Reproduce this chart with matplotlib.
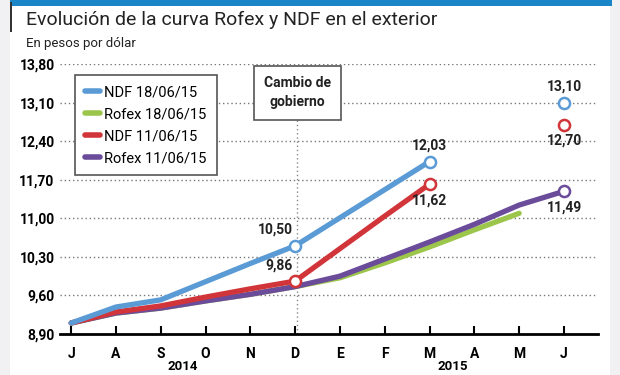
import matplotlib.pyplot as plt
import numpy as np
import matplotlib
from matplotlib.patches import Rectangle

matplotlib.rcParams['font.family'] = ['Roboto', 'DejaVu Sans']

nan = np.nan
months = ['J', 'A', 'S', 'O', 'N', 'D', 'E', 'F', 'M', 'A', 'M', 'J']
yticks = [8.90, 9.60, 10.30, 11.00, 11.70, 12.40, 13.10, 13.80]

ndf_18 = [9.10, 9.39, 9.52, 9.85, 10.18, 10.50, 11.01, 11.52, 12.03, nan, nan, nan]
rofex_18 = [9.10, 9.28, 9.37, 9.50, 9.62, 9.76, 9.92, 10.19, 10.48, 10.79, 11.09, nan]
ndf_11 = [9.10, 9.30, 9.41, 9.57, 9.72, 9.86, 10.45, 11.04, 11.62, nan, nan, nan]
rofex_11 = [9.10, 9.28, 9.37, 9.50, 9.62, 9.76, 9.95, 10.26, 10.57, 10.89, 11.24, 11.49]
ndf_18_jun = 13.10
ndf_11_jun = 12.70

c_blue = '#5b9bd5'
c_green = '#9cc64b'
c_red = '#d1353a'
c_purple = '#6b4c9a'

fig = plt.figure(figsize=(6.2, 3.75), dpi=100)
fig.patch.set_facecolor('#f1f1f3')
fig.patches.append(Rectangle((10/620, 0), 600/620, 1, transform=fig.transFigure,
                             facecolor='white', edgecolor='none', zorder=0))
fig.patches.append(Rectangle((10/620, 1 - 6/375), 602/620, 6/375, transform=fig.transFigure,
                             facecolor='#1a86c8', edgecolor='none', zorder=1))
fig.patches.append(Rectangle((10/620, 1 - 32/375), 2/620, 30/375, transform=fig.transFigure,
                             facecolor='#333333', edgecolor='none', zorder=1))

fig.text(26/620, 1 - 20/375, 'Evolución de la curva Rofex y NDF en el exterior',
         fontsize=14, color='#222222', va='center', ha='left')
fig.text(26/620, 1 - 43/375, 'En pesos por dólar', fontsize=9.5, color='#222222',
         va='center', ha='left')

ax = fig.add_axes([60/620, 41/375, 538/620, 270/375])
ax.set_zorder(3)
ax.patch.set_visible(False)
x = np.arange(len(months))
lw = 3.8
ax.plot(x, rofex_18, color=c_green, lw=lw, solid_capstyle='round', zorder=3)
ax.plot(x, rofex_11, color=c_purple, lw=lw, solid_capstyle='round', zorder=4)
ax.plot(x, ndf_11, color=c_red, lw=lw, solid_capstyle='round', zorder=5)
ax.plot(x, ndf_18, color=c_blue, lw=lw, solid_capstyle='round', zorder=6)

mk = dict(marker='o', ms=8, mfc='white', mew=1.8, ls='none', zorder=7)
ax.plot(5, ndf_18[5], mec=c_blue, **mk)
ax.plot(8, ndf_18[8], mec=c_blue, **mk)
ax.plot(5, ndf_11[5], mec=c_red, **mk)
ax.plot(8, ndf_11[8], mec=c_red, **mk)
ax.plot(11, rofex_11[11], mec=c_purple, **mk)
ax.plot(11, ndf_18_jun, mec=c_blue, **mk)
ax.plot(11, ndf_11_jun, mec=c_red, **mk)

def fmt(v):
    return f'{v:.2f}'.replace('.', ',')

lab = dict(fontsize=10, fontweight='bold', color='#222222', zorder=8)
ax.text(4.95, ndf_18[5] + 0.17, fmt(ndf_18[5]), ha='right', va='bottom', **lab)
ax.text(4.95, ndf_11[5] + 0.15, fmt(ndf_11[5]), ha='right', va='bottom', **lab)
ax.text(8, ndf_18[8] + 0.17, fmt(ndf_18[8]), ha='center', va='bottom', **lab)
ax.text(8, ndf_11[8] - 0.17, fmt(ndf_11[8]), ha='center', va='top', **lab)
ax.text(11, ndf_18_jun + 0.17, fmt(ndf_18_jun), ha='center', va='bottom', **lab)
ax.text(11, ndf_11_jun - 0.17, fmt(ndf_11_jun), ha='center', va='top', **lab)
ax.text(11, rofex_11[11] - 0.17, fmt(rofex_11[11]), ha='center', va='top', **lab)

# Cambio de gobierno
ax.plot([5.05, 5.05], [8.90, 12.85], color='#888888', lw=1, ls=(0, (1, 2)), zorder=2)
ax.text(5.05, 13.28, 'Cambio de\ngobierno', ha='center', va='center', fontsize=10,
        fontweight='bold', color='#222222', linespacing=1.45, zorder=8,
        bbox=dict(boxstyle='square,pad=0.75', fc='white', ec='#555555', lw=1.2))

ax.set_xlim(-0.25, 11.76)
ax.set_ylim(8.90, 13.80)
ax.set_yticks(yticks)
ax.set_yticklabels([fmt(v) for v in yticks], fontsize=10, fontweight='bold')
ax.set_xticks(x)
ax.set_xticklabels(months, fontsize=10, fontweight='bold')
ax.tick_params(axis='y', length=0, pad=4)
ax.tick_params(axis='x', direction='in', length=6, width=1.5, pad=9)
ax.grid(axis='y', color='#777777', lw=1, ls=(0, (1, 2)))
ax.set_axisbelow(True)
for s in ['top', 'right', 'left']:
    ax.spines[s].set_visible(False)
ax.spines['bottom'].set_linewidth(2)
ax.spines['bottom'].set_zorder(9)

fig.text(183/620, 1 - 367/375, '2014', ha='center', va='center', fontsize=9.5, fontweight='bold')
fig.text(453/620, 1 - 367/375, '2015', ha='center', va='center', fontsize=9.5, fontweight='bold')

handles = [plt.Line2D([], [], color=c, lw=4, solid_capstyle='round')
           for c in [c_blue, c_green, c_red, c_purple]]
leg = ax.legend(handles, ['NDF 18/06/15', 'Rofex 18/06/15', 'NDF 11/06/15', 'Rofex 11/06/15'],
                loc='upper left', bbox_to_anchor=(15/538, 1 - 11/270), fontsize=10.5,
                handlelength=1.0, handletextpad=0.3, labelspacing=0.55, borderpad=0.7,
                borderaxespad=0, fancybox=False, framealpha=1, edgecolor='#555555')
leg.get_frame().set_linewidth(1.2)
leg.set_zorder(10)

plt.savefig('out.png', dpi=100)
